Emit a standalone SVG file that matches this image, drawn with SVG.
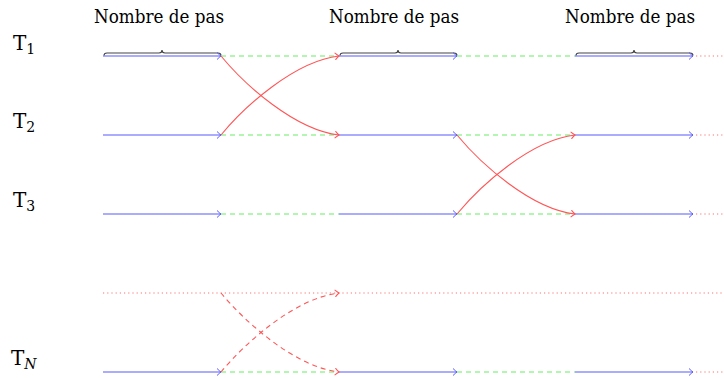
<svg xmlns="http://www.w3.org/2000/svg" width="724" height="378" viewBox="0 0 724 378">
<defs>
<style>
.lbl{font-family:"DejaVu Serif","Liberation Serif",serif;font-size:19px;fill:#000}
.tl{font-size:20px}
.sub{font-size:14px}
.b{stroke:#5a5aff;stroke-width:1.2;fill:none;marker-end:url(#ab)}
.g{stroke:#66ee66;stroke-width:1.2;fill:none;stroke-dasharray:5,4}
.d{stroke:#ff7070;stroke-width:1.2;fill:none;stroke-dasharray:1.2,3}
.r{stroke:#ff5555;stroke-width:1.1;fill:none;marker-end:url(#ar)}
.rd{stroke:#ff5555;stroke-width:1.1;fill:none;stroke-dasharray:5,4;marker-end:url(#ar)}
.br{stroke:#444;stroke-width:1.1;fill:none}
</style>
<marker id="ab" viewBox="-5 -4 6 8" markerWidth="6" markerHeight="8" refX="0" refY="0" orient="auto" markerUnits="userSpaceOnUse">
<path d="M-4,-3.5 Q-1.5,-1 0,0 Q-1.5,1 -4,3.5" fill="none" stroke="#5a5aff" stroke-width="1"/>
</marker>
<marker id="ar" viewBox="-5 -4 6 8" markerWidth="6" markerHeight="8" refX="0" refY="0" orient="auto" markerUnits="userSpaceOnUse">
<path d="M-4,-3.5 Q-1.5,-1 0,0 Q-1.5,1 -4,3.5" fill="none" stroke="#ff5555" stroke-width="1"/>
</marker>
</defs>

<g id="titles">
<text class="lbl" x="94" y="23" textLength="130" lengthAdjust="spacingAndGlyphs">Nombre de pas</text>
<text class="lbl" x="329" y="23" textLength="130" lengthAdjust="spacingAndGlyphs">Nombre de pas</text>
<text class="lbl" x="565" y="23" textLength="130" lengthAdjust="spacingAndGlyphs">Nombre de pas</text>
</g>

<g id="T1"><text class="lbl tl" x="13" y="50">T<tspan class="sub" dy="4">1</tspan></text></g>
<g id="T2"><text class="lbl tl" x="13" y="128">T<tspan class="sub" dy="4">2</tspan></text></g>
<g id="T3"><text class="lbl tl" x="13" y="207">T<tspan class="sub" dy="4">3</tspan></text></g>
<g id="TN"><text class="lbl tl" x="11" y="365">T<tspan class="sub" dy="4" font-style="italic">N</tspan></text></g>

<g id="braces">
<path class="br" d="M104,55.5 Q104,53 107,53 L159,53 Q162,53 162,50 Q162,53 165,53 L218,53 Q221,53 221,55.5"/>
<path class="br" d="M340,55.5 Q340,53 343,53 L395,53 Q398,53 398,50 Q398,53 401,53 L454,53 Q457,53 457,55.5"/>
<path class="br" d="M576,55.5 Q576,53 579,53 L631,53 Q634,53 634,50 Q634,53 637,53 L690,53 Q693,53 693,55.5"/>
</g>

<g id="connectors">
<!-- row 1 -->
<path class="b" d="M103,56 H221"/>
<path class="g" d="M221,56 H339"/>
<path class="b" d="M339,56 H457"/>
<path class="g" d="M457,56 H575"/>
<path class="b" d="M575,56 H693"/>
<path class="d" d="M696,56 H724"/>
<!-- row 2 -->
<path class="b" d="M103,135 H221"/>
<path class="g" d="M221,135 H339"/>
<path class="b" d="M339,135 H457"/>
<path class="g" d="M457,135 H575"/>
<path class="b" d="M575,135 H693"/>
<path class="d" d="M696,135 H724"/>
<!-- row 3 -->
<path class="b" d="M103,214 H221"/>
<path class="g" d="M221,214 H339"/>
<path class="b" d="M339,214 H457"/>
<path class="g" d="M457,214 H575"/>
<path class="b" d="M575,214 H693"/>
<path class="d" d="M696,214 H724"/>
<!-- dotted row -->
<path class="d" d="M103,293 H724"/>
<!-- row N -->
<path class="b" d="M103,372 H221"/>
<path class="g" d="M221,372 H339"/>
<path class="b" d="M339,372 H457"/>
<path class="g" d="M457,372 H575"/>
<path class="b" d="M575,372 H693"/>
<path class="d" d="M696,372 H724"/>
<!-- swaps -->
<path class="r" d="M221,56 C245,85 295,130 339,135"/>
<path class="r" d="M221,135 C245,106 295,61 339,56"/>
<path class="r" d="M457,135 C481,164 531,209 575,214"/>
<path class="r" d="M457,214 C481,185 531,140 575,135"/>
<path class="rd" d="M221,293 C245,322 295,367 339,372"/>
<path class="rd" d="M221,372 C245,343 295,298 339,293"/>
</g>
</svg>
